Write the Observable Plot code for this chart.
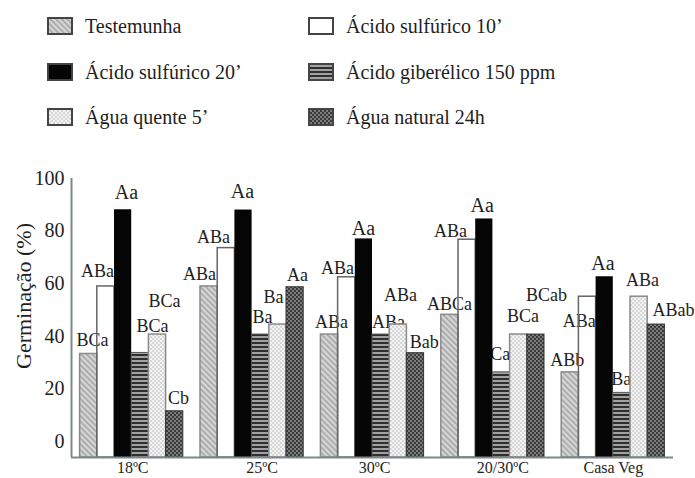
<!DOCTYPE html>
<html><head><meta charset="utf-8">
<script src="https://cdn.jsdelivr.net/npm/d3@7"></script>
<script src="https://cdn.jsdelivr.net/npm/@observablehq/plot@0.6"></script>
<style>
html,body{margin:0;padding:0;background:#fff;}
body{width:695px;height:478px;overflow:hidden;font-family:"Liberation Serif","Times New Roman",serif;color:#1e1e1e;}
#legend{position:relative;width:695px;height:150px;}
.item{position:absolute;height:30px;display:flex;align-items:center;font-size:20px;white-space:nowrap;}
.item svg{margin-right:12px;flex:none;}
#chart svg{display:block;}
</style></head><body>
<svg width="0" height="0" style="position:absolute"><defs>
  <pattern id="pTest" patternUnits="userSpaceOnUse" width="4" height="4" patternTransform="rotate(-45)">
    <rect width="4" height="4" fill="#d6d6d6"/><rect width="1.6" height="4" fill="#a4a4a4"/>
  </pattern>
  <pattern id="pGib" patternUnits="userSpaceOnUse" width="4" height="4">
    <rect width="4" height="4" fill="#a2a2a2"/><rect width="4" height="2" fill="#2e2e2e"/>
  </pattern>
  <pattern id="pQuente" patternUnits="userSpaceOnUse" width="4" height="4">
    <rect width="4" height="4" fill="#f3f3f3"/><circle cx="1" cy="1" r="0.8" fill="#b3b3b3"/><circle cx="3" cy="3" r="0.8" fill="#b3b3b3"/>
  </pattern>
  <pattern id="pNat" patternUnits="userSpaceOnUse" width="4" height="4">
    <rect width="4" height="4" fill="#3a3a3a"/><circle cx="1" cy="1" r="0.9" fill="#9c9c9c"/><circle cx="3" cy="3" r="0.9" fill="#9c9c9c"/>
  </pattern>
</defs></svg>
<div id="legend"></div>
<div id="chart"></div>
<script>
// ---- data ----
const groups = ["18ºC", "25ºC", "30ºC", "20/30ºC", "Casa Veg"];
const series = ["Testemunha", "Ácido sulfúrico 10’", "Ácido sulfúrico 20’", "Ácido giberélico 150 ppm", "Água quente 5’", "Água natural 24h"];

const testemunha = [33.2, 58.9, 40.6, 48.1, 26.2];
const sulfurico10 = [58.9, 73.5, 62.4, 76.7, 55.0];
const sulfurico20 = [88.1, 88.0, 77.0, 84.6, 62.6];
const giberelico = [33.6, 40.6, 40.6, 26.2, 18.4];
const aguaQuente = [40.6, 44.4, 44.4, 40.6, 55.0];
const aguaNatural = [11.4, 58.6, 33.5, 40.6, 44.4];

const lettersTestemunha = ["BCa", "ABa", "ABa", "ABCa", "ABb"];
const lettersSulfurico10 = ["ABa", "ABa", "ABa", "ABa", "ABa"];
const lettersSulfurico20 = ["Aa", "Aa", "Aa", "Aa", "Aa"];
const lettersGiberelico = ["BCa", "Ba", "ABa", "Ca", "Ba"];
const lettersAguaQuente = ["BCa", "Ba", "ABa", "BCa", "ABa"];
const lettersAguaNatural = ["Cb", "Aa", "Bab", "BCab", "ABab"];

const yTicks = [0, 20, 40, 60, 80, 100];

// ---- layout (positions/styles, kept apart from data) ----
const values = [testemunha, sulfurico10, sulfurico20, giberelico, aguaQuente, aguaNatural];
const letters = [lettersTestemunha, lettersSulfurico10, lettersSulfurico20, lettersGiberelico, lettersAguaQuente, lettersAguaNatural];
// label offsets in px relative to bar centre / bar top
const labelDx = [[3.8, -9.6, 2, -0.4, -3.1], [-8.4, -12.8, -9.2, -16.6, -8.3], [3.4, -1, -0.4, -2.1, -1.7],
                 [12.2, 1.8, 7.4, -1.2, -0.6], [7, -4.4, 2.2, 4.3, 3.4], [3.8, 2.4, 8.8, 10.6, 17.2]];
const labelDy = [[13.3, 12.4, 12.3, 10.3, 12.4], [15.7, 11.3, 9, 8.3, -25], [16.7, 18.3, 10, 13.3, 13.3],
                 [26.6, 17.3, 12.3, 18.4, 14], [33, 27.3, 29, 18, 16.7], [13, 11.7, 11, 39.7, 14]];
const groupLabelDx = [1, 10, 2, 10, 0];
const fills = ["url(#pTest)", "none", "#050505", "url(#pGib)", "url(#pQuente)", "url(#pNat)"];
const strokes = ["#8a8a8a", "#666", "none", "#555", "#8a8a8a", "#333"];
const strokeWidths = [1.5, 1.5, 0, 1, 1.5, 1];
const swatchFills = ["url(#pTest)", "#fff", "#050505", "url(#pGib)", "url(#pQuente)", "url(#pNat)"];

// ---- legend ----
const legend = document.getElementById("legend");
const rowTop = [11, 57, 102];
const colLeft = [47, 308];
series.forEach((s, i) => {
  const d = document.createElement("div");
  d.className = "item";
  d.style.top = rowTop[Math.floor(i / 2)] + "px";
  d.style.left = colLeft[i % 2] + "px";
  d.innerHTML = `<svg width="26" height="18"><rect x="1" y="1" width="24" height="16" fill="${swatchFills[i]}" stroke="#444" stroke-width="2"/></svg><span>${s}</span>`;
  legend.appendChild(d);
});

// ---- chart ----
const nS = series.length, slot = nS + 1;
const xMin = -0.5, xMax = groups.length * slot - 0.5;
const yMin = -6.2, yMax = 100;
const W = 695, H = 328, mL = 71, mR = 22, mT = 28, mB = 21;
const pxX = (W - mL - mR) / (xMax - xMin);
const pxY = (H - mT - mB) / (yMax - yMin);

const rows = [];
groups.forEach((g, gi) => series.forEach((s, si) => {
  const v = values[si][gi];
  rows.push({
    group: g, series: s, si, value: v, letter: letters[si][gi],
    x1: gi * slot + si, x2: gi * slot + si + 1,
    lx: gi * slot + si + 0.5 + labelDx[si][gi] / pxX,
    ly: v + labelDy[si][gi] / pxY
  });
}));

const marks = [
  Plot.text(rows.filter(r => r.si !== 2), {x: "lx", y: "ly", text: "letter", fontSize: 18, lineAnchor: "middle"}),
  Plot.text(rows.filter(r => r.si === 2), {x: "lx", y: "ly", text: "letter", fontSize: 20, lineAnchor: "middle"}),
  ...series.map((s, si) => Plot.rectY(rows.filter(r => r.si === si), {
    x1: "x1", x2: "x2", y1: () => yMin, y2: "value",
    fill: fills[si], stroke: strokes[si], strokeWidth: strokeWidths[si]
  })),
  Plot.ruleX([xMin], {stroke: "#7f8787", strokeWidth: 2}),
  Plot.ruleY([yMin], {stroke: "#7f8787", strokeWidth: 2}),
  Plot.text(groups, {x: (d, i) => i * slot + nS / 2 + groupLabelDx[i] / pxX, y: () => yMin, dy: 4, lineAnchor: "top", fontSize: 16, text: d => d}),
  Plot.text(["Germinação (%)"], {frameAnchor: "left", textAnchor: "middle", rotate: -90, dx: -48, dy: -22, fontSize: 22, text: d => d})
];

const chart = Plot.plot({
  width: W, height: H,
  marginLeft: mL, marginRight: mR, marginTop: mT, marginBottom: mB,
  style: {fontFamily: "'Liberation Serif','Times New Roman',serif", fontSize: "20px", color: "#1e1e1e", background: "white", overflow: "visible"},
  x: {domain: [xMin, xMax], axis: null},
  y: {domain: [yMin, yMax], ticks: yTicks, tickSize: 0, tickPadding: 7, label: null},
  marks
});
document.getElementById("chart").appendChild(chart);
</script></body></html>
